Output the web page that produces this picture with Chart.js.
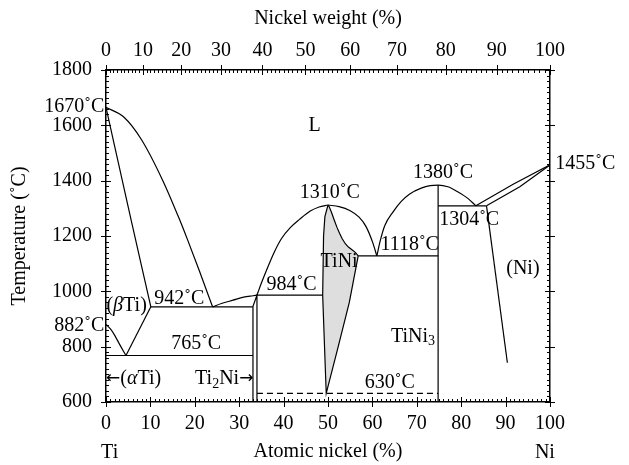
<!DOCTYPE html>
<html>
<head>
<meta charset="utf-8">
<script src="https://cdn.jsdelivr.net/npm/chart.js@4.4.1/dist/chart.umd.min.js"></script>
<style>
    html, body { margin: 0; padding: 0; background: #fff; }
    #grafico { display: block; }
</style>
</head>
<body>
<canvas id="grafico" width="629" height="465"></canvas>
<script>
//===============================================================
// ========================== DADOS =============================
//===============================================================
// pontos [níquel atômico (%), temperatura (°C)] lidos do diagrama

const liquidusTi     = [[0, 1665], [4, 1630], [8, 1548], [12.8, 1400], [16.5, 1262], [18.4, 1185], [21, 1075], [24, 944]];
const solidusTi      = [[0, 1665], [5.6, 1262], [10.1, 944]];
const transusBeta    = [[0, 880], [1, 864], [2, 840], [3, 810], [4.5, 768]];
const solvusBeta     = [[4.5, 768], [10.1, 944]];
const eutetoide765   = [[0, 768], [33.1, 768]];
const eutetico942    = [[10.1, 944], [33.1, 944]];
const faseTi2Ni      = [[33.1, 600], [33.1, 946], [34, 986], [34, 600]];
const liquidusTi2Ni  = [[24, 944], [26, 956], [28.6, 968], [31, 979], [33.1, 984], [34, 986]];
const peritetico984  = [[34, 986], [48.8, 986]];
const liquidusTiNiE  = [[34, 986], [35, 1030], [36.5, 1090], [38, 1145], [39.5, 1190], [41.5, 1230], [43.6, 1260], [46, 1290], [48, 1305], [50, 1312]];
const liquidusTiNiD  = [[50, 1312], [52.5, 1306], [54.9, 1292], [57, 1268], [58.6, 1233], [60.1, 1175], [61, 1128]];
const regiaoTiNi     = [[50, 1312], [49.3, 1270], [49, 1200], [48.8, 986], [49.6, 631], [52.3, 800], [54.8, 960], [56.8, 1128],
                        [56.2, 1140], [55.4, 1150], [54.6, 1160], [53.9, 1172], [53.2, 1190], [52.6, 1210],
                        [52, 1232], [51.4, 1258], [50.8, 1285], [50.3, 1305], [50, 1312]];
const eutetico1118   = [[56.8, 1128], [74.8, 1128]];
const liquidusTiNi3  = [[61, 1128], [61.8, 1185], [62.8, 1238], [64.7, 1288], [66.5, 1325], [68.4, 1352], [71, 1373],
                        [73, 1382], [74.8, 1384], [77, 1378], [79, 1362], [81.5, 1336], [83.3, 1309]];
const faseTiNi3      = [[74.8, 1384], [74.8, 600]];
const eutetico1304   = [[74.8, 1309], [85.7, 1309]];
const solvusNi       = [[85.7, 1309], [90.4, 742]];
const liquidusNi     = [[83.3, 1309], [91.7, 1387], [100, 1457]];
const solidusNi      = [[85.7, 1309], [93.2, 1378], [100, 1457]];
const linha630       = [[34, 631], [74.8, 631]];

// eixos
const ticksTemperatura = [600, 800, 1000, 1200, 1400, 1600, 1800];
const ticksAtomico     = [0, 10, 20, 30, 40, 50, 60, 70, 80, 90, 100];
const ticksPeso        = [0, 10, 20, 30, 40, 50, 60, 70, 80, 90, 100];

// textos: [texto, níquel atômico, temperatura, alinhamento]
const rotulos = [
    ["L", 47, 1600, "center"],
    ["1670˚C", -0.4, 1668, "right"],
    ["882˚C", -0.4, 877, "right"],
    ["(*β*Ti)", 0.1, 947, "left"],
    ["942˚C", 16.5, 975, "center"],
    ["765˚C", 20.3, 812, "center"],
    ["984˚C", 41.8, 1022, "center"],
    ["1310˚C", 50.4, 1355, "center"],
    ["TiNi", 52.5, 1107, "center"],
    ["1118˚C", 68.4, 1167, "center"],
    ["1380˚C", 75.9, 1428, "center"],
    ["1304˚C", 81.8, 1258, "center"],
    ["1455˚C", 101.2, 1462, "left"],
    ["(Ni)", 93.9, 1080, "center"],
    ["TiNi_{3}", 74.1, 836, "right"],
    ["630˚C", 63.9, 669, "center"],
    ["←(*α*Ti)", 0, 683, "left"],
    ["Ti_{2}Ni→", 33.2, 683, "right"],
    ["Ti", -1.1, 416, "left"],
    ["Ni", 101.1, 416, "right"]
];

//===============================================================
// ========================= FUNÇÕES ============================
//===============================================================

const FONTE = "'Liberation Serif', 'DejaVu Serif', serif";
const TAM = 20;

// massa atômica Ti 47.87, Ni 58.69: conversão do eixo de peso
function pesoParaAtomico(w) {
    const ni = w / 58.69;
    const ti = (100 - w) / 47.87;
    return 100 * ni / (ni + ti);
}

function linha(pontos, extra) {
    return Object.assign({
        data: pontos.map(p => ({ x: p[0], y: p[1] })),
        showLine: true,
        borderColor: "#000",
        borderWidth: 1.2,
        pointRadius: 0,
        fill: false,
        tension: 0
    }, extra || {});
}

// curva suave (x sempre crescente)
function curva(pontos) {
    return linha(pontos, { cubicInterpolationMode: "monotone" });
}

function partesDoTexto(txt) {
    const partes = [];
    const re = /_\{([^}]*)\}|\*([^*]*)\*|([←→])|([^_*←→]+)/g;
    let m;
    while ((m = re.exec(txt))) {
        if (m[1] !== undefined) partes.push({ t: m[1], sub: true });
        else if (m[2] !== undefined) partes.push({ t: m[2], it: true });
        else if (m[3] !== undefined) partes.push({ t: m[3], seta: true });
        else partes.push({ t: m[4] });
    }
    return partes;
}

function fonteDa(parte) {
    if (parte.seta) return Math.round(TAM * 0.85) + "px 'DejaVu Sans', sans-serif";
    const tam = parte.sub ? Math.round(TAM * 0.72) : TAM;
    return (parte.it ? "italic " : "") + tam + "px " + FONTE;
}

function desenharTexto(ctx, txt, x, y, align) {
    const partes = partesDoTexto(txt);
    let total = 0;
    partes.forEach(p => {
        ctx.font = fonteDa(p);
        p.w = ctx.measureText(p.t).width;
        total += p.w;
    });
    let cx = x;
    if (align === "center") cx = x - total / 2;
    if (align === "right") cx = x - total;
    partes.forEach(p => {
        ctx.font = fonteDa(p);
        ctx.fillText(p.t, cx, p.sub ? y + 5 : y);
        cx += p.w;
    });
}

function risco(ctx, x1, y1, x2, y2) {
    ctx.beginPath();
    ctx.moveTo(x1, y1);
    ctx.lineTo(x2, y2);
    ctx.stroke();
}

// marcas maiores cruzando o eixo, menores para dentro
const marcasEixos = {
    id: "marcasEixos",
    afterDraw(chart) {
        const { ctx, chartArea: a, scales } = chart;
        ctx.save();
        ctx.strokeStyle = "#000";
        ctx.lineWidth = 1;
        for (let v = 0; v <= 100; v++) {
            const maior = v % 10 === 0;
            const px = Math.round(scales.x.getPixelForValue(v)) + 0.5;
            if (maior) risco(ctx, px, a.bottom + 5, px, a.bottom - 5);
            else risco(ctx, px, a.bottom, px, a.bottom - 3);
            const pt = Math.round(scales.xPeso.getPixelForValue(pesoParaAtomico(v))) + 0.5;
            if (maior) risco(ctx, pt, a.top - 5, pt, a.top + 5);
            else risco(ctx, pt, a.top, pt, a.top + 3);
        }
        for (let t = 600; t <= 1800; t += 20) {
            const maior = t % 200 === 0;
            const py = Math.round(scales.y.getPixelForValue(t)) + 0.5;
            if (maior) {
                risco(ctx, a.left - 5, py, a.left + 5, py);
                risco(ctx, a.right - 5, py, a.right + 5, py);
            } else {
                risco(ctx, a.left, py, a.left + 3, py);
                risco(ctx, a.right, py, a.right - 3, py);
            }
        }
        ctx.restore();
    }
};

const textosDiagrama = {
    id: "textosDiagrama",
    afterDraw(chart) {
        const { ctx, scales } = chart;
        ctx.save();
        ctx.fillStyle = "#000";
        ctx.textBaseline = "middle";
        ctx.textAlign = "left";
        rotulos.forEach(r => {
            desenharTexto(ctx, r[0], scales.x.getPixelForValue(r[1]), scales.y.getPixelForValue(r[2]), r[3]);
        });
        ctx.restore();
    }
};

//===============================================================
// ========================= GRÁFICO ============================
//===============================================================

const fonteEixo = { family: FONTE, size: TAM };
const bordaEixo = { display: true, color: "#000", width: 1.5 };
const semGrade = { display: false, drawTicks: false };

new Chart(document.getElementById("grafico"), {
    type: "scatter",
    data: {
        datasets: [
            linha(regiaoTiNi, { fill: "shape", backgroundColor: "#dedede" }),
            curva(liquidusTi),
            curva(solidusTi),
            curva(transusBeta),
            linha(solvusBeta),
            linha(eutetoide765),
            linha(eutetico942),
            linha(faseTi2Ni),
            curva(liquidusTi2Ni),
            linha(peritetico984),
            curva(liquidusTiNiE),
            curva(liquidusTiNiD),
            linha(eutetico1118),
            curva(liquidusTiNi3),
            linha(faseTiNi3),
            linha(eutetico1304),
            linha(solvusNi),
            linha(liquidusNi),
            linha(solidusNi),
            linha(linha630, { borderDash: [6, 4] })
        ]
    },
    options: {
        responsive: false,
        animation: false,
        devicePixelRatio: 1,
        layout: { padding: 0 },
        plugins: {
            legend: { display: false },
            tooltip: { enabled: false }
        },
        scales: {
            x: {
                type: "linear",
                position: "bottom",
                min: 0,
                max: 100,
                afterBuildTicks: s => { s.ticks = ticksAtomico.map(v => ({ value: v })); },
                ticks: { font: fonteEixo, color: "#000", padding: 10, maxRotation: 0, autoSkip: false },
                grid: semGrade,
                border: bordaEixo,
                title: { display: true, text: "Atomic nickel (%)", font: fonteEixo, color: "#000", padding: { top: 0, bottom: 1 } },
                afterFit: s => { s.height = 63; }
            },
            xPeso: {
                type: "linear",
                axis: "x",
                position: "top",
                min: 0,
                max: 100,
                afterBuildTicks: s => { s.ticks = ticksPeso.map(w => ({ value: pesoParaAtomico(w) })); },
                ticks: {
                    font: fonteEixo, color: "#000", padding: 7, maxRotation: 0, autoSkip: false,
                    callback: (v, i) => ticksPeso[i]
                },
                grid: semGrade,
                border: bordaEixo,
                title: { display: true, text: "Nickel weight (%)", font: fonteEixo, color: "#000", padding: { top: 7, bottom: 0 } },
                afterFit: s => { s.height = 70; }
            },
            y: {
                type: "linear",
                position: "left",
                min: 600,
                max: 1800,
                afterBuildTicks: s => { s.ticks = ticksTemperatura.map(v => ({ value: v })); },
                ticks: { font: fonteEixo, color: "#000", padding: 14, callback: v => String(v) },
                grid: semGrade,
                border: bordaEixo,
                title: { display: true, text: "Temperature (˚C)", font: fonteEixo, color: "#000", padding: { top: 8, bottom: 0 } },
                afterFit: s => { s.width = 106; }
            },
            yDir: {
                type: "linear",
                axis: "y",
                position: "right",
                min: 600,
                max: 1800,
                ticks: { display: false },
                grid: semGrade,
                border: bordaEixo,
                afterFit: s => { s.width = 79; }
            }
        }
    },
    plugins: [marcasEixos, textosDiagrama]
});
</script>
</body>
</html>
